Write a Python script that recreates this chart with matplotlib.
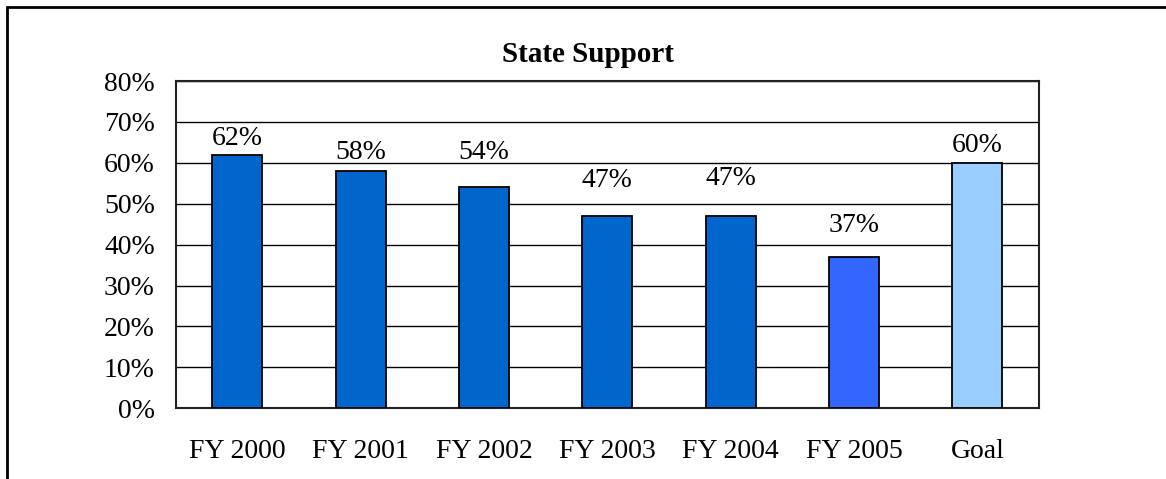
import matplotlib
matplotlib.use("Agg")
import matplotlib.pyplot as plt
from matplotlib.patches import Rectangle
from matplotlib.ticker import MultipleLocator, FuncFormatter

categories = ["FY 2000", "FY 2001", "FY 2002", "FY 2003", "FY 2004", "FY 2005", "Goal"]
values = [62, 58, 54, 47, 47, 37, 60]
colors = ["#0066CC", "#0066CC", "#0066CC", "#0066CC", "#0066CC", "#3366FF", "#99CCFF"]
title = "State Support"
# gap (px) between bar top and label baseline, as in the original
label_gap_px = [10, 12, 28, 29, 31, 25, 11]

plt.rcParams["font.family"] = ["Liberation Serif", "DejaVu Serif"]

W, H = 1166, 479
fig = plt.figure(figsize=(W / 100, H / 100), dpi=100)
left, right, top, bottom = 175.7, 1039, 81, 408.3
ax = fig.add_axes([left / W, 1 - bottom / H, (right - left) / W, (bottom - top) / H])

x = range(len(categories))
ax.bar(x, values, width=0.405, color=colors, edgecolor="black", linewidth=1.3, zorder=3)
for xi, v, g in zip(x, values, label_gap_px):
    ax.annotate(f"{v}%", (xi, v), xytext=(0, g * 0.72), textcoords="offset points",
                ha="center", va="baseline", fontsize=20)

ax.set_xlim(-0.5, len(categories) - 0.5)
ax.set_ylim(0, 80)
ax.yaxis.set_major_locator(MultipleLocator(10))
ax.yaxis.set_major_formatter(FuncFormatter(lambda v, p: f"{int(v)}%"))
ax.set_xticks(list(x))
ax.set_xticklabels(categories)
ax.tick_params(axis="both", length=0, labelsize=20)
ax.tick_params(axis="y", pad=15)
ax.tick_params(axis="x", pad=22)
ax.grid(axis="y", color="black", linewidth=1.0, zorder=0)
ax.set_axisbelow(True)
for s in ax.spines.values():
    s.set_linewidth(1.5)
    s.set_color("#222222")

fig.text(588 / W, 1 - 62 / H, title, ha="center", va="baseline", fontsize=21, fontweight="bold")

fig.add_artist(Rectangle((7 / W, -0.5), 2.0, 0.5 + 1 - 7 / H, transform=fig.transFigure,
                         fill=False, edgecolor="black", linewidth=2.0))

fig.savefig("out.png", dpi=100)
